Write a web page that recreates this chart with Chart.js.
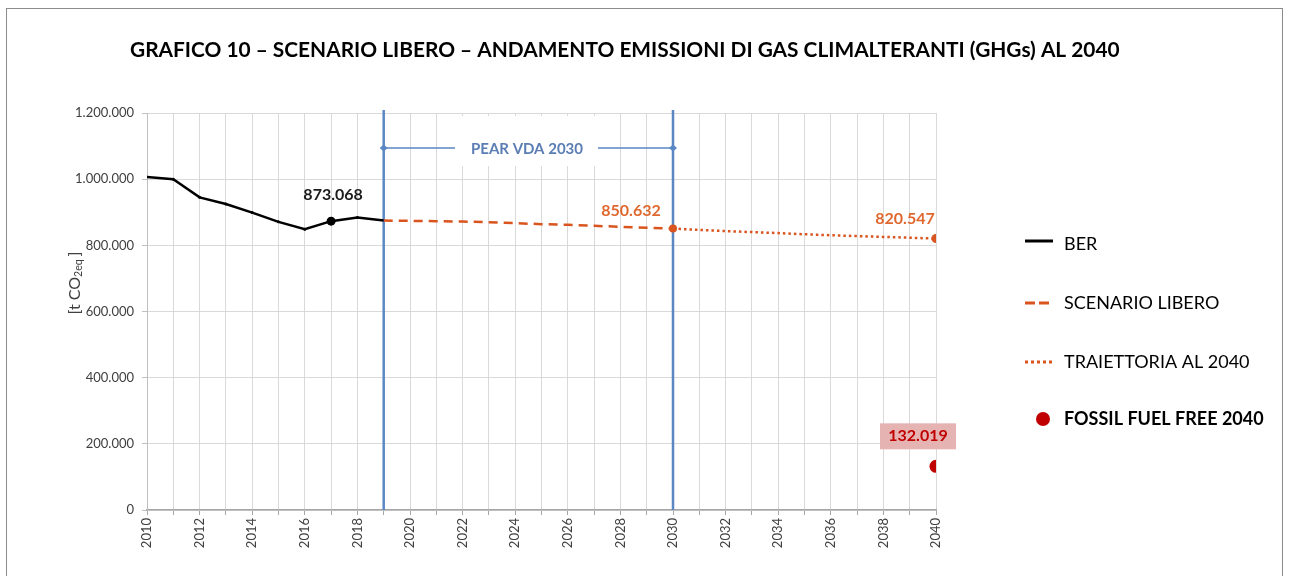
<!DOCTYPE html>
<html><head><meta charset="utf-8">
<script src="https://cdn.jsdelivr.net/npm/chart.js@4/dist/chart.umd.min.js"></script>
<style>
html,body{margin:0;padding:0;background:#fff;}
#wrap{position:relative;width:1289px;height:576px;overflow:hidden;}
#frame{position:absolute;left:6px;top:8px;width:1277px;height:620px;border:1.5px solid #8c8c8c;box-sizing:border-box;}
canvas{position:absolute;left:0;top:0;}
</style></head>
<body><div id="wrap"><div id="frame"></div><canvas id="c" width="1289" height="576"></canvas></div>
<script>
const titleText = 'GRAFICO 10 – SCENARIO LIBERO – ANDAMENTO EMISSIONI DI GAS CLIMALTERANTI (GHGs) AL 2040';
const berYears = [2010,2011,2012,2013,2014,2015,2016,2017,2018,2019];
const berValues = [1006500,999500,945000,925000,899000,871000,848500,873068,884000,875000];
const scenarioYears = [2019,2020,2021,2022,2023,2024,2025,2026,2027,2028,2029,2030];
const scenarioValues = [875000,874000,873000,872000,870000,867000,864000,862000,859000,856000,853500,850632];
const trajYears = [2030,2031,2032,2033,2034,2035,2036,2037,2038,2039,2040];
const trajValues = [850632,846500,843000,840000,837000,833500,830500,828000,825500,823000,820547];
const fffYears = [2040];
const fffValues = [132019];
const seriesNames = ['BER','SCENARIO LIBERO','TRAIETTORIA AL 2040','FOSSIL FUEL FREE 2040'];
const pearYears = [2019,2030];
const pearLabel = 'PEAR VDA 2030';
const yTicks = [0,200000,400000,600000,800000,1000000,1200000];

const fmt = v => String(Math.round(v)).replace(/\B(?=(\d{3})+(?!\d))/g,'.');
const fmt3 = v => (v/1000).toFixed(3);

const BLUE = '#5b87c4', ORANGE = '#d9541e', ORANGE_T = '#e0682f', RED = '#c00000';
const FONT = 'Lato, "Open Sans", sans-serif';

const pts = (xs, ys) => xs.map((x,i)=>({x, y: ys[i]}));

const deco = {
  id:'deco',
  beforeDatasetsDraw(chart){
    const {ctx, scales:{x,y}, chartArea:a} = chart;
    ctx.save();
    const x1 = x.getPixelForValue(pearYears[0]), x2 = x.getPixelForValue(pearYears[1]);
    const ay = 148;
    ctx.fillStyle='#fff';
    ctx.fillRect(456, 116, 143, 50);
    ctx.strokeStyle = BLUE; ctx.lineWidth = 2.5;
    [x1,x2].forEach(px=>{ctx.beginPath();ctx.moveTo(px,110);ctx.lineTo(px,a.bottom);ctx.stroke();});
    ctx.lineWidth = 1.5;
    ctx.beginPath();ctx.moveTo(x1,ay);ctx.lineTo(455,ay);ctx.moveTo(598,ay);ctx.lineTo(x2,ay);ctx.stroke();
    ctx.fillStyle = BLUE;
    [x1,x2].forEach(px=>{ctx.beginPath();ctx.moveTo(px-4,ay);ctx.lineTo(px,ay-3.5);ctx.lineTo(px+4,ay);ctx.lineTo(px,ay+3.5);ctx.closePath();ctx.fill();});
    ctx.font = 'bold 15px '+FONT; ctx.fillStyle='#5a7db3'; ctx.textAlign='center'; ctx.textBaseline='middle';
    ctx.fillText(pearLabel, 527, ay+1);
    ctx.restore();
  },
  afterDraw(chart){
    const {ctx, scales:{x,y}} = chart;
    ctx.save();
    ctx.textAlign='center'; ctx.textBaseline='middle';
    ctx.font = 'bold 16px '+FONT; ctx.fillStyle = '#1a1a1a';
    ctx.fillText(fmt3(berValues[7]), x.getPixelForValue(berYears[7])+2, y.getPixelForValue(berValues[7])-26);
    ctx.fillStyle = ORANGE_T;
    const sl = scenarioValues.length-1;
    ctx.fillText(fmt3(scenarioValues[sl]), x.getPixelForValue(scenarioYears[sl])-42, y.getPixelForValue(scenarioValues[sl])-18);
    const tl = trajValues.length-1;
    ctx.fillText(fmt3(trajValues[tl]), x.getPixelForValue(trajYears[tl])-31, y.getPixelForValue(trajValues[tl])-20);
    const fx = x.getPixelForValue(fffYears[0]), fy = y.getPixelForValue(fffValues[0]);
    ctx.fillStyle = '#e6b3b3';
    ctx.fillRect(fx-56, fy-43, 76, 26);
    ctx.fillStyle = RED;
    ctx.fillText(fmt3(fffValues[0]), fx-18, fy-30);
    ctx.translate(75, 283); ctx.rotate(-Math.PI/2);
    ctx.fillStyle = '#404040'; ctx.textAlign='left'; ctx.textBaseline='middle';
    const f1 = '16px '+FONT, f2 = '10.5px '+FONT;
    ctx.font=f1; const w1 = ctx.measureText('[t CO').width;
    ctx.font=f2; const w2 = ctx.measureText('2eq').width;
    ctx.font=f1; const w3 = ctx.measureText(']').width + 3;
    let sx = -(w1+w2+w3)/2;
    ctx.font=f1; ctx.fillText('[t CO', sx, 0);
    ctx.font=f2; ctx.fillText('2eq', sx+w1, 4);
    ctx.font=f1; ctx.fillText(']', sx+w1+w2+3, 0);
    ctx.restore();

    ctx.save();
    ctx.textAlign='left'; ctx.textBaseline='middle';
    const lx = 1025, tx = 1064, ys = [244,303,362,419];
    ctx.lineWidth = 3;
    ctx.strokeStyle = '#000'; ctx.beginPath(); ctx.moveTo(lx,ys[0]-3); ctx.lineTo(lx+28,ys[0]-3); ctx.stroke();
    ctx.strokeStyle = ORANGE; ctx.setLineDash([10,4]); ctx.beginPath(); ctx.moveTo(lx,ys[1]); ctx.lineTo(lx+28,ys[1]); ctx.stroke();
    ctx.setLineDash([3,3]); ctx.beginPath(); ctx.moveTo(lx,ys[2]); ctx.lineTo(lx+28,ys[2]); ctx.stroke();
    ctx.setLineDash([]);
    ctx.fillStyle = RED; ctx.beginPath(); ctx.arc(1043, ys[3], 7, 0, Math.PI*2); ctx.fill();
    ctx.fillStyle = '#000';
    ctx.font = '18px '+FONT;
    ctx.fillText(seriesNames[0], tx, ys[0]);
    ctx.fillText(seriesNames[1], tx, ys[1]);
    ctx.fillText(seriesNames[2], tx, ys[2]);
    ctx.font = 'bold 18px '+FONT;
    ctx.fillText(seriesNames[3], tx, ys[3]);

    let size = 18;
    ctx.font = 'bold '+size+'px '+FONT;
    const w = ctx.measureText(titleText).width;
    size = size*990/w;
    ctx.font = 'bold '+size.toFixed(2)+'px '+FONT;
    ctx.fillStyle='#000';
    ctx.fillText(titleText, 130, 50);
    ctx.restore();
  }
};

new Chart(document.getElementById('c'), {
  type:'line',
  data:{datasets:[
    {label:seriesNames[0], data:pts(berYears,berValues), borderColor:'#000', backgroundColor:'#000', borderWidth:2.5,
     pointRadius: berYears.map((yy,i)=> i===7?4.5:(i===0||i===berYears.length-1?0:1.5)), pointBorderWidth:0, tension:0, order:1},
    {label:seriesNames[1], data:pts(scenarioYears,scenarioValues), borderColor:ORANGE, backgroundColor:ORANGE, borderWidth:2.5, borderDash:[9,6],
     pointRadius: scenarioYears.map((yy,i)=> i===scenarioYears.length-1?4:0), pointBorderWidth:0, tension:0, order:2},
    {label:seriesNames[2], data:pts(trajYears,trajValues), borderColor:ORANGE, backgroundColor:ORANGE, borderWidth:2.5, borderDash:[2.5,3],
     pointRadius: trajYears.map((yy,i)=> i===trajYears.length-1?4.5:0), pointBorderWidth:0, tension:0, order:3},
    {label:seriesNames[3], data:pts(fffYears,fffValues), showLine:false, borderColor:RED, backgroundColor:RED, pointRadius:6.5, pointBorderWidth:0, order:0}
  ]},
  options:{
    responsive:false, animation:false, devicePixelRatio:1,
    layout:{padding:{left:0,right:353,top:113,bottom:0}},
    plugins:{legend:{display:false}, tooltip:{enabled:false}, title:{display:false}},
    scales:{
      x:{type:'linear', min:2010, max:2040,
        afterFit(s){s.height=66;},
        afterBuildTicks(s){ s.ticks = []; for(let v=2010; v<=2040; v++) s.ticks.push({value:v}); },
        ticks:{stepSize:1, autoSkip:false, maxRotation:90, minRotation:90, padding:3,
          callback:v=> v%2===0? String(v):'', font:{family:FONT,size:13}, color:'#404040'},
        grid:{color:'#d9d9d9', lineWidth:1, tickLength:5, tickColor:'#a6a6a6'},
        border:{color:'#a6a6a6', width:1.5}},
      y:{min:0, max:1200000,
        afterFit(s){s.width=147;},
        afterBuildTicks(s){ s.ticks = yTicks.map(v=>({value:v})); },
        ticks:{stepSize:200000, padding:8, callback:v=>fmt(v), font:{family:FONT,size:13}, color:'#404040'},
        grid:{color:'#d9d9d9', lineWidth:1, tickLength:5, tickColor:'#bfbfbf'},
        border:{color:'#bfbfbf', width:1}}
    }
  },
  plugins:[deco]
});
</script>
</body></html>
